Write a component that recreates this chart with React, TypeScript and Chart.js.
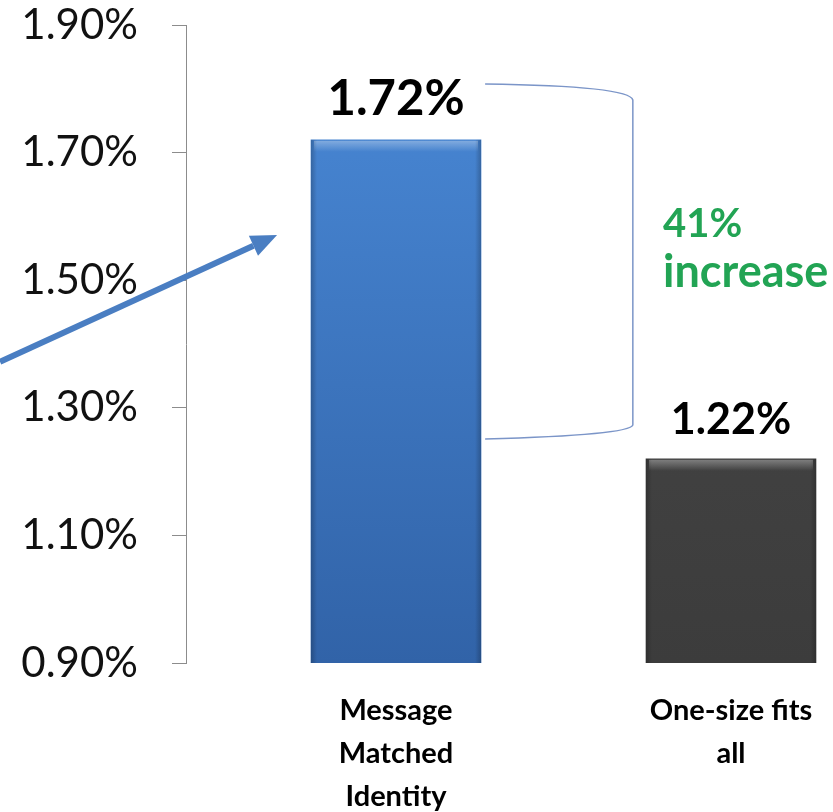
import React, { useEffect, useRef } from 'react';
import { Chart, registerables } from 'chart.js';

Chart.register(...registerables);

// ---- data ----
const categories: string[][] = [['Message', 'Matched', 'Identity'], ['One-size fits', 'all']];
const values: number[] = [1.72, 1.22];
const valueLabels: string[] = ['1.72%', '1.22%'];
const valueLabelSizes: number[] = [49, 43];
const yTicks: number[] = [0.9, 1.1, 1.3, 1.5, 1.7, 1.9];
const barTop: string[] = ['#4a8ad8', '#4a4a4a'];
const barBottom: string[] = ['#3163a8', '#3c3c3c'];
const increaseText: string[] = ['41%', 'increase'];
const increaseSizes: number[] = [40, 45];

// annotation anchors in data units (x: category position, y: percent)
const bracketX: number[] = [1.266, 1.707];
const bracketY: number[] = [1.8075, 1.251];
const arrowFrom: number[] = [-0.182, 1.372];
const arrowTo: number[] = [0.645, 1.571];
const increaseAt: number[] = [1.797, 1.5677];

const FONT = 'Lato, "Open Sans", sans-serif';

const decorPlugin = {
  id: 'decor',
  afterDatasetsDraw(chart: any) {
    const ctx = chart.ctx;
    const area = chart.chartArea;
    const meta = chart.getDatasetMeta(0);
    meta.data.forEach((bar: any, i: number) => {
      const { x, y, base, width } = bar.getProps(['x', 'y', 'base', 'width'], true);
      const bottom = Math.min(base, area.bottom);
      const l = x - width / 2;
      const r = x + width / 2;
      ctx.save();
      // top bevel highlight
      const g = ctx.createLinearGradient(0, y, 0, y + 12);
      g.addColorStop(0, 'rgba(255,255,255,0.35)');
      g.addColorStop(1, 'rgba(255,255,255,0)');
      ctx.fillStyle = g;
      ctx.fillRect(l + 3, y + 1, width - 6, 12);
      // side shading
      const gl = ctx.createLinearGradient(l, 0, l + 6, 0);
      gl.addColorStop(0, 'rgba(0,0,0,0.22)');
      gl.addColorStop(1, 'rgba(0,0,0,0)');
      ctx.fillStyle = gl;
      ctx.fillRect(l, y, 6, bottom - y);
      const gr = ctx.createLinearGradient(r, 0, r - 6, 0);
      gr.addColorStop(0, 'rgba(0,0,0,0.22)');
      gr.addColorStop(1, 'rgba(0,0,0,0)');
      ctx.fillStyle = gr;
      ctx.fillRect(r - 6, y, 6, bottom - y);
      // value label
      ctx.fillStyle = '#000';
      ctx.font = `bold ${valueLabelSizes[i]}px ${FONT}`;
      ctx.textAlign = 'center';
      ctx.textBaseline = 'alphabetic';
      ctx.fillText(valueLabels[i], x, y - 25);
      ctx.restore();
    });
  },
  afterDraw(chart: any) {
    const ctx = chart.ctx;
    const xs = chart.scales.x;
    const ys = chart.scales.y;
    const px = (v: number) => xs.getPixelForValue(v);
    const py = (v: number) => ys.getPixelForValue(v);
    ctx.save();
    // bracket
    const x0 = px(bracketX[0]);
    const x1 = px(bracketX[1]);
    const y0 = py(bracketY[0]);
    const y1 = py(bracketY[1]);
    ctx.strokeStyle = '#7b95c8';
    ctx.lineWidth = 1.5;
    ctx.beginPath();
    ctx.moveTo(x0, y0);
    ctx.quadraticCurveTo(x1 - 3, y0 + 2, x1, y0 + 16);
    ctx.lineTo(x1, y1 - 14);
    ctx.quadraticCurveTo(x1 - 3, y1 - 4, x0, y1);
    ctx.stroke();

    // arrow
    const ax0 = px(arrowFrom[0]);
    const ay0 = py(arrowFrom[1]);
    const ax1 = px(arrowTo[0]);
    const ay1 = py(arrowTo[1]);
    const ang = Math.atan2(ay1 - ay0, ax1 - ax0);
    const headLen = 26;
    const headW = 11;
    const bx = ax1 - headLen * Math.cos(ang);
    const by = ay1 - headLen * Math.sin(ang);
    ctx.strokeStyle = '#4a7ec2';
    ctx.fillStyle = '#4a7ec2';
    ctx.lineWidth = 6;
    ctx.beginPath();
    ctx.moveTo(ax0, ay0);
    ctx.lineTo(bx, by);
    ctx.stroke();
    ctx.beginPath();
    ctx.moveTo(ax1, ay1);
    ctx.lineTo(bx + headW * Math.sin(ang), by - headW * Math.cos(ang));
    ctx.lineTo(bx - headW * Math.sin(ang), by + headW * Math.cos(ang));
    ctx.closePath();
    ctx.fill();

    // 41% increase
    ctx.fillStyle = '#22a454';
    ctx.textAlign = 'left';
    ctx.textBaseline = 'alphabetic';
    const tx = px(increaseAt[0]);
    const ty = py(increaseAt[1]);
    ctx.font = `bold ${increaseSizes[0]}px ${FONT}`;
    ctx.fillText(increaseText[0], tx, ty);
    ctx.font = `bold ${increaseSizes[1]}px ${FONT}`;
    ctx.fillText(increaseText[1], tx, ty + 50);
    ctx.restore();
  },
};

export default function App() {
  const ref = useRef<HTMLCanvasElement | null>(null);

  useEffect(() => {
    let chart: Chart | null = null;
    let cancelled = false;
    const make = () => {
      if (cancelled || !ref.current) return;
      chart = new Chart(ref.current, {
        type: 'bar',
        data: {
          datasets: [
            {
              data: values.map((v, i) => ({ x: i + 1, y: v })),
              backgroundColor: (c: any) => {
                const area = c.chart.chartArea;
                const i = c.dataIndex ?? 0;
                if (!area) return barTop[i];
                const g = c.chart.ctx.createLinearGradient(0, area.top, 0, area.bottom);
                g.addColorStop(0, barTop[i]);
                g.addColorStop(1, barBottom[i]);
                return g;
              },
              borderWidth: 0,
              barThickness: 170,
            } as any,
          ],
        },
        options: {
          animation: false,
          responsive: true,
          maintainAspectRatio: false,
          layout: { padding: { top: 25, left: 0, right: 0, bottom: 0 } },
          plugins: { legend: { display: false }, tooltip: { enabled: false } },
          scales: {
            x: {
              type: 'linear',
              offset: false,
              min: 0.3731,
              max: 2.3045,
              afterBuildTicks: (s: any) => {
                s.ticks = categories.map((_, i) => ({ value: i + 1 }));
              },
              afterFit: (s: any) => {
                s.height = 149;
                s.paddingLeft = 0;
                s.paddingRight = 0;
              },
              grid: { display: false, drawTicks: false },
              border: { display: false },
              ticks: {
                autoSkip: false,
                maxRotation: 0,
                padding: 26,
                color: '#000',
                font: { family: FONT, size: 29, weight: 'bold', lineHeight: '43px' },
                callback: (v: any) => categories[Math.round(v) - 1] ?? '',
              },
            },
            y: {
              min: 0.9,
              max: 1.9,
              afterBuildTicks: (s: any) => {
                s.ticks = yTicks.map((v) => ({ value: v }));
              },
              afterFit: (s: any) => {
                s.width = 186;
                s.paddingTop = 0;
                s.paddingBottom = 0;
              },
              grid: { drawOnChartArea: false, drawTicks: true, tickLength: 14, color: '#8c8c8c' },
              border: { display: true, color: '#8c8c8c', width: 1 },
              ticks: {
                padding: 34,
                color: '#111',
                font: { family: FONT, size: 42 },
                callback: (v: any) => Number(v).toFixed(2) + '%',
              },
            },
          },
        } as any,
        plugins: [decorPlugin],
      });
    };
    const fonts: any = (document as any).fonts;
    if (fonts && fonts.load) {
      Promise.all([fonts.load(`40px Lato`), fonts.load(`bold 40px Lato`)])
        .catch(() => null)
        .then(make);
    } else {
      make();
    }
    return () => {
      cancelled = true;
      if (chart) chart.destroy();
    };
  }, []);

  return (
    <div style={{ position: 'fixed', left: 0, top: 0, width: 833, height: 812, background: '#fff' }}>
      <canvas ref={ref} />
    </div>
  );
}
